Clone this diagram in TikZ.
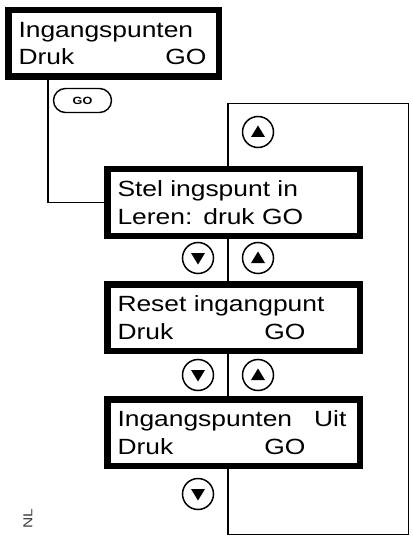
\documentclass[tikz,border=0pt]{standalone}
\usepackage{fontspec}
\setmainfont{Liberation Sans}[FakeStretch=1.2]
\usetikzlibrary{shapes.misc}

\newcommand\lcdline[2]{\makebox[188pt][l]{#1\hfill #2}}

\begin{document}
\begin{tikzpicture}[x=1pt,y=-1pt,
    lcd/.style={draw, line width=6.5pt, anchor=north west, minimum width=252.5pt, minimum height=66.5pt,
        inner xsep=10pt, text width=232pt, align=left, font=\fontsize{22}{27.5}\selectfont},
    gobtn/.style={draw, rounded rectangle, line width=1.4pt, minimum width=58pt, minimum height=24pt,
        inner sep=0pt, font=\bfseries\fontsize{10.5}{11}\selectfont},
    keyup/.style={draw, circle, line width=1.5pt, minimum size=31pt, inner sep=0pt,
        path picture={\fill (path picture bounding box.center) ++(-7pt,-5pt) -- ++(14pt,0pt) -- ++(-7pt,11.5pt) -- cycle;}},
    keydown/.style={draw, circle, line width=1.5pt, minimum size=31pt, inner sep=0pt,
        path picture={\fill (path picture bounding box.center) ++(-7pt,5pt) -- ++(14pt,0pt) -- ++(-7pt,-11.5pt) -- cycle;}},
    wire/.style={line width=1.6pt}]
            \useasboundingbox (0,0) rectangle (412,537);

			\node[lcd, minimum width=210.5pt, text width=190pt] (menu) at (5,7) {Ingangspunten\\\lcdline{Druk}{GO}};
			\node[lcd] (teach) at (104,166) {Stel ingspunt in\\Leren: druk GO};
			\node[lcd] (reset) at (104,281) {Reset ingangpunt\\\lcdline{Druk}{GO}};
			\node[lcd] (off) at (104,396) {Ingangspunten\hspace{22pt}Uit\\\lcdline{Druk}{GO}};

			\coordinate (feed) at (48,0);
			\coordinate (spine) at (228,0);
			\coordinate (loopbr) at (408.5,534.5);
			\coordinate (looptr) at (408.5,103.5);

			\draw[wire] (menu.south -| feed) |- (teach.west);
			\draw[wire] (teach.south -| spine) -- (reset.north -| spine);
			\draw[wire] (reset.south -| spine) -- (off.north -| spine);
			\draw[wire] (off.south -| spine) |- (loopbr) -- (looptr) -| (teach.north -| spine);

			\node[gobtn] (go) at (82.5,100.5) {GO};
			\node[keyup] (uptop) at (258,132) {};
			\node[keydown] (downa) at (198,258) {};
			\node[keyup] (upa) at (258,258) {};
			\node[keydown] (downb) at (198,375) {};
			\node[keyup] (upb) at (258,375) {};
			\node[keydown] (downc) at (198,494) {};
			\node[rotate=90, text=black!75, font=\fontsize{13}{14}\selectfont] (lang) at (28,519) {NL};

\end{tikzpicture}
\end{document}
